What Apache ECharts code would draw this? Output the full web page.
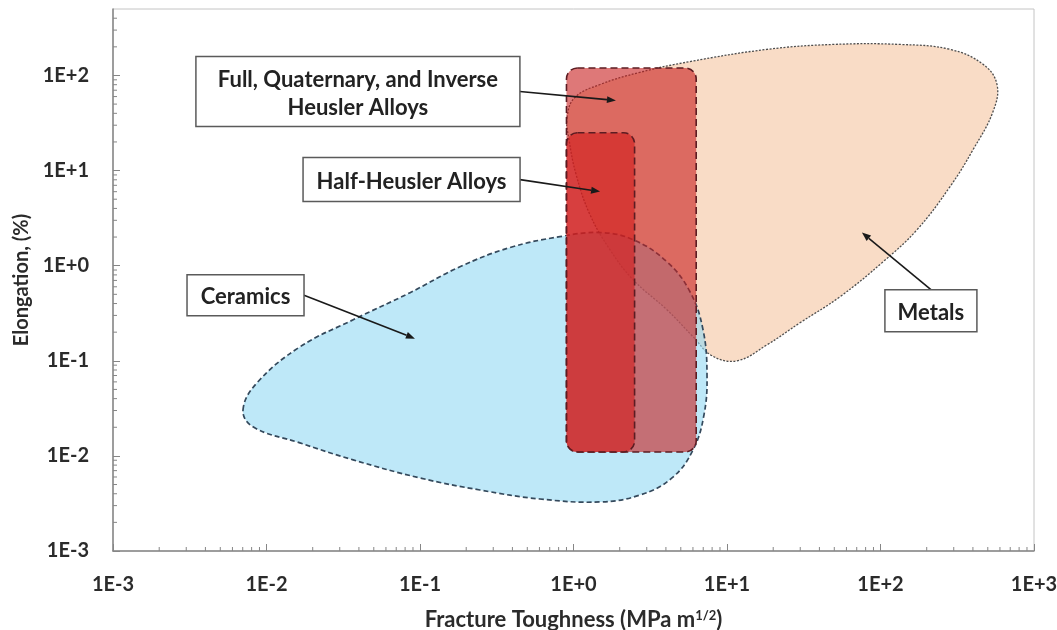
<!DOCTYPE html>
<html>
<head>
<meta charset="utf-8">
<script src="https://cdn.jsdelivr.net/npm/echarts@6/dist/echarts.min.js"></script>
<style>html,body{margin:0;padding:0;background:#fff}#chart{width:1057px;height:630px}</style>
</head>
<body>
<div id="chart"></div>
<script>
// ---------------- DATA ----------------
const xTickLabels = ['1E-3', '1E-2', '1E-1', '1E+0', '1E+1', '1E+2', '1E+3'];
const yTickLabels = ['1E-3', '1E-2', '1E-1', '1E+0', '1E+1', '1E+2'];

// Ceramics envelope: [fracture toughness, elongation]
const ceramics = [
  [0.00703, 0.0305], [0.00867, 0.0586], [0.0165, 0.140], [0.0367, 0.270],
  [0.0861, 0.520], [0.182, 0.975], [0.385, 1.55], [0.816, 2.02],
  [1.49, 2.23], [2.44, 1.88], [4.06, 1.10], [5.74, 0.532],
  [6.98, 0.212], [7.41, 0.0713], [7.08, 0.0270], [6.01, 0.01156],
  [4.38, 0.00586], [2.71, 0.00388], [1.49, 0.00328], [0.605, 0.00352],
  [0.246, 0.00438], [0.1, 0.00586], [0.0367, 0.00908], [0.0165, 0.0137],
  [0.00817, 0.0202]
];

// Metals envelope
const metals = [
  [0.908, 36.1], [1.02, 58.7], [1.49, 80.4], [2.71, 108], [5.74, 140],
  [18.2, 188], [49.1, 212], [134, 212], [284, 188], [466, 131],
  [574, 80.4], [541, 41.8], [401, 16.6], [284, 6.79], [173, 2.39],
  [104, 1.10], [54.5, 0.472], [29.9, 0.251], [18.2, 0.147], [11.6, 0.1],
  [7.98, 0.113], [6.01, 0.179], [4.06, 0.344], [2.44, 0.713], [1.73, 1.47],
  [1.28, 3.44], [1.04, 9.08], [0.935, 21.2]
];

// Heusler ranges: [toughness min, elongation min, toughness max, elongation max]
const fullHeusler = [0.9, 0.011, 6.3, 120];
const halfHeusler = [0.9, 0.011, 2.5, 25];

// Annotation labels, label anchors and arrow targets (data units)
const annotationTexts = ['Full, Quaternary, and Inverse\nHeusler Alloys', 'Half-Heusler Alloys', 'Ceramics', 'Metals'];
const annotationAnchors = [[0.0394, 67.9], [0.0881, 8.04], [0.0073, 0.489], [213, 0.336]];
const annotationTips = [[1.89, 54.6], [1.49, 6.01], [0.0927, 0.171], [75.7, 2.23]];

// ---------------- STYLE ----------------
const FONT = 'Lato, "Open Sans", sans-serif';
const TXT = '#2b2b2b';
const annBoxes = [
  { w: 324, h: 70, side: 'right' },
  { w: 217, h: 44, side: 'right' },
  { w: 117, h: 41, side: 'right' },
  { w: 92, h: 42, side: 'top' }
];

function expOf(v) {
  const l = Math.log10(v);
  const e = Math.round(l);
  return Math.abs(l - e) < 1e-6 ? e : null;
}

// minor tick values (2..9 per decade) for drawing log-style minor ticks
function minorTicks(lo, hi) {
  const out = [];
  for (let k = lo; k < hi; k++) {
    for (let m = 2; m <= 9; m++) {
      out.push(m * Math.pow(10, k));
    }
  }
  return out;
}
const X_MIN = 0.001, X_MAX = 1000, Y_MIN = 0.001, Y_MAX = 500;
const xMinor = minorTicks(-3, 3);
const yMinor = minorTicks(-3, 3).filter(v => v < Y_MAX);

function blobSeries(points, style, z, smooth) {
  return {
    type: 'custom',
    coordinateSystem: 'cartesian2d',
    silent: true,
    z: z,
    clip: true,
    data: points,
    renderItem: function (params, api) {
      if (params.dataIndex !== 0) return null;
      const pts = points.map(p => api.coord(p));
      return {
        type: 'polygon',
        shape: { points: pts, smooth: smooth },
        style: style
      };
    }
  };
}

function rectSeries(r, style, z) {
  return {
    type: 'custom',
    coordinateSystem: 'cartesian2d',
    silent: true,
    z: z,
    data: [r],
    renderItem: function (params, api) {
      const p0 = api.coord([r[0], r[3]]);
      const p1 = api.coord([r[2], r[1]]);
      return {
        type: 'rect',
        shape: { x: p0[0], y: p0[1], width: p1[0] - p0[0], height: p1[1] - p0[1], r: 11 },
        style: style
      };
    }
  };
}

const chart = echarts.init(document.getElementById('chart'), null, { renderer: 'canvas' });

const option = {
  animation: false,
  backgroundColor: '#ffffff',
  grid: {
    left: 113, right: 23, top: 9, bottom: 79,
    outerBoundsMode: 'none', containLabel: false,
    show: true, borderColor: '#c4c4c4', borderWidth: 1, backgroundColor: 'transparent'
  },
  xAxis: {
    type: 'log', logBase: 10, min: X_MIN, max: X_MAX,
    name: 'Fracture Toughness (MPa m{sup|1/2})',
    nameLocation: 'middle', nameGap: 58,
    nameTextStyle: {
      fontFamily: FONT, fontWeight: 'bold', fontSize: 22, color: TXT,
      rich: { sup: { fontFamily: FONT, fontWeight: 'bold', fontSize: 13, color: TXT, verticalAlign: 'top', lineHeight: 14 } }
    },
    axisLine: { show: true, lineStyle: { color: '#868686', width: 1.5 } },
    axisTick: { show: true, inside: true, length: 7, lineStyle: { color: '#868686', width: 1 } },
    splitLine: { show: false },
    minorTick: { show: false },
    axisLabel: {
      margin: 24, fontFamily: FONT, fontWeight: 'bold', fontSize: 20, color: TXT,
      formatter: v => { const e = expOf(v); return e === null ? '' : xTickLabels[e + 3]; }
    }
  },
  yAxis: {
    type: 'log', logBase: 10, min: Y_MIN, max: Y_MAX,
    name: 'Elongation, (%)',
    nameLocation: 'middle', nameGap: 79,
    nameTextStyle: { fontFamily: FONT, fontWeight: 'bold', fontSize: 20, color: TXT },
    axisLine: { show: true, lineStyle: { color: '#868686', width: 1.5 } },
    axisTick: { show: true, inside: true, length: 7, lineStyle: { color: '#868686', width: 1 } },
    splitLine: { show: false },
    minorTick: { show: false },
    axisLabel: {
      margin: 24, fontFamily: FONT, fontWeight: 'bold', fontSize: 20, color: TXT,
      showMaxLabel: false,
      formatter: v => { const e = expOf(v); return e === null ? '' : yTickLabels[e + 3]; }
    }
  },
  series: [
    // minor ticks on x axis
    {
      type: 'custom', coordinateSystem: 'cartesian2d', silent: true, z: 10, clip: false,
      data: xMinor.map(v => [v, Y_MIN]),
      renderItem: function (params, api) {
        const p = api.coord([api.value(0), Y_MIN]);
        return { type: 'line', shape: { x1: p[0], y1: p[1], x2: p[0], y2: p[1] - 4 }, style: { stroke: '#868686', lineWidth: 1 } };
      }
    },
    // minor ticks on y axis
    {
      type: 'custom', coordinateSystem: 'cartesian2d', silent: true, z: 10, clip: false,
      data: yMinor.map(v => [X_MIN, v]),
      renderItem: function (params, api) {
        const p = api.coord([X_MIN, api.value(1)]);
        return { type: 'line', shape: { x1: p[0], y1: p[1], x2: p[0] + 4, y2: p[1] }, style: { stroke: '#868686', lineWidth: 1 } };
      }
    },
    blobSeries(metals, { fill: '#f9dcc6', stroke: '#4d4d4d', lineWidth: 1.3, lineDash: [2, 1.5] }, 2, 0.4),
    blobSeries(ceramics, { fill: 'rgba(147,217,243,0.6)', stroke: '#34495c', lineWidth: 1.7, lineDash: [5, 3] }, 3, 0.4),
    rectSeries(fullHeusler, { fill: 'rgba(200,30,30,0.6)', stroke: '#5c1c22', lineWidth: 1.6, lineDash: [7, 4] }, 4),
    rectSeries(halfHeusler, { fill: 'rgba(210,30,30,0.63)', stroke: '#5c1c22', lineWidth: 1.6, lineDash: [7, 4] }, 5),
    // annotations
    {
      type: 'custom', coordinateSystem: 'cartesian2d', silent: true, z: 20, clip: false,
      data: annotationAnchors,
      renderItem: function (params, api) {
        const i = params.dataIndex;
        const c = api.coord(annotationAnchors[i]);
        const t = api.coord(annotationTips[i]);
        const b = annBoxes[i];
        let sx, sy;
        if (b.side === 'right') { sx = c[0] + b.w / 2; sy = c[1]; }
        else { sx = c[0]; sy = c[1] - b.h / 2; }
        const ang = Math.atan2(t[1] - sy, t[0] - sx);
        const L = 9, W = 3.5;
        const bx = t[0] - L * Math.cos(ang), by = t[1] - L * Math.sin(ang);
        const head = [
          [t[0], t[1]],
          [bx - W * Math.sin(ang), by + W * Math.cos(ang)],
          [bx + W * Math.sin(ang), by - W * Math.cos(ang)]
        ];
        return {
          type: 'group',
          children: [
            { type: 'line', shape: { x1: sx, y1: sy, x2: bx, y2: by }, style: { stroke: '#1a1a1a', lineWidth: 1.6 } },
            { type: 'polygon', shape: { points: head }, style: { fill: '#1a1a1a' } },
            { type: 'rect', shape: { x: c[0] - b.w / 2, y: c[1] - b.h / 2, width: b.w, height: b.h }, style: { fill: '#ffffff', stroke: '#5a5a5a', lineWidth: 1.5 } },
            { type: 'text', x: c[0], y: c[1] + 2, style: { text: annotationTexts[i], align: 'center', verticalAlign: 'middle', font: 'bold 22px ' + FONT, fill: '#222222', lineHeight: 28 } }
          ]
        };
      }
    }
  ]
};
chart.setOption(option);
</script>
</body>
</html>
